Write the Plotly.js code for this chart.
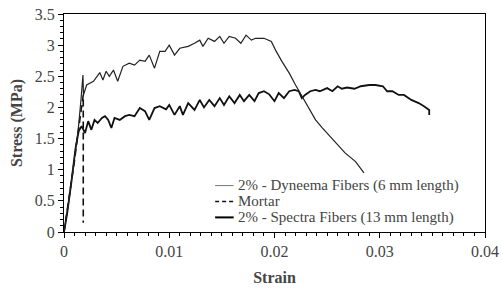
<!DOCTYPE html>
<html>
<head>
<meta charset="utf-8">
<script src="https://cdn.plot.ly/plotly-3.0.1.min.js"></script>
<style>html,body{margin:0;padding:0;background:#fff;}#chart{width:503px;height:291px;}</style>
</head>
<body>
<div id="chart"></div>
<script>
// Upper curve: 2% - Dyneema Fibers (6 mm length)
const dyneemaStrain = [0,0.0005,0.001,0.00135,0.0016,0.0018,0.00185,0.00215,0.0028,0.0034,0.0037,0.0040,0.0043,0.0047,0.0051,0.0056,0.0062,0.0067,0.0072,0.0077,0.0081,0.0086,0.0091,0.0096,0.0100,0.0105,0.0110,0.0118,0.0124,0.0129,0.0132,0.0137,0.0143,0.0148,0.0152,0.0157,0.0163,0.0168,0.0173,0.0178,0.0182,0.0190,0.0197,0.0201,0.0207,0.0214,0.0220,0.0226,0.0233,0.0239,0.0245,0.0252,0.0260,0.0267,0.0277,0.0285];
const dyneemaStress = [0,0.55,1.2,1.64,2.1,2.52,2.2,2.36,2.42,2.56,2.44,2.58,2.50,2.60,2.42,2.66,2.71,2.68,2.76,2.74,2.84,2.63,2.90,2.90,3.00,2.84,2.95,2.98,3.03,3.08,2.98,3.11,3.06,3.14,3.03,3.14,3.11,3.03,3.16,3.08,3.11,3.11,3.06,2.92,2.74,2.55,2.36,2.18,1.99,1.80,1.68,1.55,1.40,1.27,1.13,0.95];

// Dashed curve: Mortar
const mortarStrain = [0,0.0005,0.0010,0.0013,0.0016,0.00183,0.00183];
const mortarStress = [0,0.55,1.15,1.55,1.95,2.2,0.15];

// Lower curve: 2% - Spectra Fibers (13 mm length)
const spectraStrain = [0,0.0003,0.0007,0.0011,0.0014,0.00167,0.0020,0.0023,0.0026,0.0029,0.0032,0.0036,0.0039,0.0042,0.0045,0.0048,0.0053,0.0058,0.0062,0.0067,0.0072,0.0077,0.0081,0.0086,0.0091,0.0097,0.0100,0.0105,0.0110,0.0113,0.0118,0.0124,0.0129,0.0133,0.0138,0.0143,0.0148,0.0152,0.0157,0.0162,0.0167,0.0171,0.0176,0.0181,0.0185,0.0190,0.0195,0.0200,0.0204,0.0209,0.0214,0.0219,0.0223,0.0226,0.0229,0.0234,0.0239,0.0243,0.0250,0.0255,0.0260,0.0264,0.0269,0.0276,0.0282,0.0290,0.0296,0.0303,0.0307,0.0312,0.0318,0.0323,0.0330,0.0337,0.0342,0.0347,0.0347];
const spectraStress = [0,0.3,0.8,1.35,1.62,1.70,1.59,1.78,1.64,1.80,1.75,1.83,1.86,1.80,1.67,1.83,1.80,1.86,1.88,1.86,1.99,1.94,1.80,1.99,2.02,1.97,2.04,1.88,2.02,1.88,2.07,1.96,2.12,2.00,2.12,2.02,2.15,2.04,2.18,2.07,2.20,2.10,2.20,2.10,2.23,2.26,2.21,2.10,2.23,2.15,2.26,2.28,2.26,2.15,2.20,2.26,2.28,2.26,2.31,2.26,2.34,2.30,2.32,2.30,2.34,2.36,2.36,2.34,2.26,2.26,2.20,2.20,2.12,2.07,2.02,1.96,1.88];

const xTickVals = [0,0.01,0.02,0.03,0.04];
const xTickText = ["0","0.01","0.02","0.03","0.04"];
const yTickVals = [0,0.5,1,1.5,2,2.5,3,3.5];
const yTickText = ["0","0.5","1","1.5","2","2.5","3","3.5"];
const legendLabels = ["2% - Dyneema Fibers (6 mm length)","Mortar","2% - Spectra Fibers (13 mm length)"];

const serif = "Liberation Serif";
function f(size){ return {family:serif, size:size}; }

const traces = [
  {x: mortarStrain, y: mortarStress, mode:'lines', line:{color:'#111', width:1.6, dash:'7px,4px'}, name: legendLabels[1]},
  {x: spectraStrain, y: spectraStress, mode:'lines', line:{color:'#111', width:1.8}, name: legendLabels[2]},
  {x: dyneemaStrain, y: dyneemaStress, mode:'lines', line:{color:'#222', width:1.2}, name: legendLabels[0]}
];

const rowY = [0.213, 0.140, 0.067];
const keyStyles = [
  {color:'#777', width:1, dash:'solid'},
  {color:'#111', width:1.4, dash:'4px,3px'},
  {color:'#000', width:2, dash:'solid'}
];
const annotations = legendLabels.map((t,i)=>({
  text: t, xref:'paper', yref:'paper', x:0.41, y:rowY[i], xanchor:'left', yanchor:'middle',
  showarrow:false, font:f(15), borderpad:0
}));
const shapes = legendLabels.map((t,i)=>({
  type:'line', xref:'paper', yref:'paper', x0:0.359, x1:0.403, y0:rowY[i], y1:rowY[i],
  line: keyStyles[i]
}));

const layout = {
  width:503, height:291,
  margin:{l:64, r:18, t:14, b:59},
  paper_bgcolor:'#fff', plot_bgcolor:'#fff',
  font:f(16),
  showlegend:false,
  xaxis: {
    showline:true, mirror:true, linecolor:'#000', linewidth:1,
    showgrid:false, zeroline:false, ticks:'outside', tickcolor:'#000', ticklen:5,
    tickfont:f(16),
    range:[0,0.04], tickmode:'array', tickvals:xTickVals, ticktext:xTickText,
    minor:{dtick:0.001, ticks:'outside', ticklen:3, tickcolor:'#000', showgrid:false},
    title:{text:'<b>Strain</b>', font:f(16), standoff:12}
  },
  yaxis: {
    showline:true, mirror:true, linecolor:'#000', linewidth:1,
    showgrid:false, zeroline:false, ticks:'outside', tickcolor:'#000', ticklen:5,
    tickfont:f(16),
    range:[0,3.5], tickmode:'array', tickvals:yTickVals, ticktext:yTickText,
    minor:{dtick:0.1, ticks:'outside', ticklen:3, tickcolor:'#000', showgrid:false},
    title:{text:'<b>Stress (MPa)</b>', font:f(16), standoff:8}
  },
  annotations: annotations,
  shapes: shapes
};

Plotly.newPlot('chart', traces, layout, {displayModeBar:false, staticPlot:true});
</script>
</body>
</html>
